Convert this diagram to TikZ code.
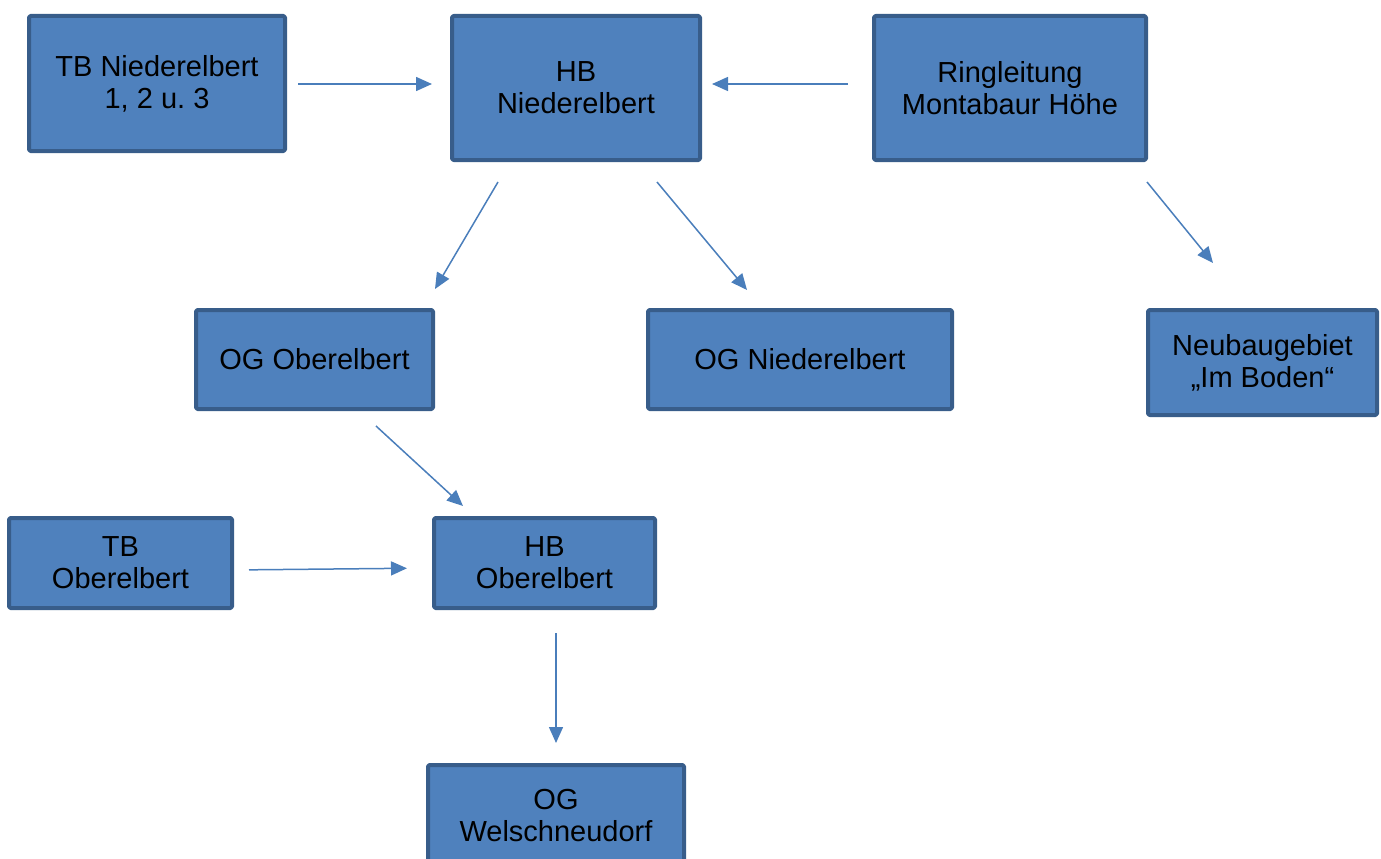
\documentclass[tikz,border=0pt]{standalone}
\usepackage{fontspec}
\setmainfont{Liberation Sans}
\usetikzlibrary{arrows.meta}
\definecolor{boxfill}{HTML}{4F81BD}
\definecolor{boxline}{HTML}{385D8A}
\definecolor{arrowblue}{HTML}{4A7EBB}
\frenchspacing
\tikzset{
  stelle/.style={draw=boxline, fill=boxfill, line width=4pt, outer sep=0pt, inner sep=2pt,
    rounded corners=1.5pt, align=center, font=\fontsize{29}{32}\selectfont},
  fluss/.style={draw=arrowblue, line width=1.5pt, -{Triangle[length=16pt,width=14pt]}}
}
\begin{document}
\begin{tikzpicture}[x=1pt, y=-1pt, line join=round]
				\clip (0,0) rectangle (1381,859);
				\path
				(157,83.5) coordinate (TBN)
				(576,88) coordinate (HBN)
				(1010,88) coordinate (RL)
				(314.5,359.5) coordinate (OGO)
				(800,359.5) coordinate (OGN)
				(1262.5,362.5) coordinate (NB)
				(120.5,563) coordinate (TBO)
				(544.5,563) coordinate (HBO)
				(556,816) coordinate (OGW)
				;
				\node[stelle, minimum width=256pt, minimum height=135pt] (tbn) at (TBN) {TB Niederelbert\\1, 2 u. 3};
				\node[stelle, minimum width=248pt, minimum height=144pt] (hbn) at (HBN) {HB\\Niederelbert};
				\node[stelle, minimum width=272pt, minimum height=144pt] (rl) at (RL) {Ringleitung\\Montabaur Höhe};
				\node[stelle, minimum width=237pt, minimum height=99pt] (ogo) at (OGO) {OG Oberelbert};
				\node[stelle, minimum width=304pt, minimum height=99pt] (ogn) at (OGN) {OG Niederelbert};
				\node[stelle, minimum width=229pt, minimum height=105pt] (nb) at (NB) {Neubaugebiet\\„Im Boden“};
				\node[stelle, minimum width=223pt, minimum height=90pt] (tbo) at (TBO) {TB\\Oberelbert};
				\node[stelle, minimum width=221pt, minimum height=90pt] (hbo) at (HBO) {HB\\Oberelbert};
				\node[stelle, minimum width=256pt, minimum height=102pt] (ogw) at (OGW) {OG\\Welschneudorf};
				% Verbindungen
				\draw[fluss, shorten <=13pt, shorten >=20pt] ([yshift=-0.5pt]tbn.east) -- ([yshift=-0.5pt]tbn.east -| hbn.west);
				\draw[fluss, shorten <=26pt, shorten >=12pt] ([yshift=4pt]rl.west) -- ([yshift=4pt]hbn.east);
				\draw[fluss] ([xshift=-78pt,yshift=-22pt]hbn.south) -- ([xshift=120.5pt,yshift=21pt]ogo.north);
				\draw[fluss] ([xshift=81pt,yshift=-22pt]hbn.south) -- ([xshift=-53pt,yshift=20pt]ogn.north);
				\draw[fluss] ([xshift=137pt,yshift=-22pt]rl.south) -- ([xshift=-49.5pt,yshift=47pt]nb.north);
				\draw[fluss] ([xshift=61.5pt,yshift=-17pt]ogo.south) -- ([xshift=-81.5pt,yshift=12pt]hbo.north);
				\draw[fluss, shorten <=17pt, shorten >=27pt] ([yshift=-7pt]tbo.east) -- ([yshift=-5pt]hbo.west);
				\draw[fluss, shorten <=25pt, shorten >=22pt] (hbo.south -| ogw.north) -- (ogw.north);
\end{tikzpicture}
\end{document}
